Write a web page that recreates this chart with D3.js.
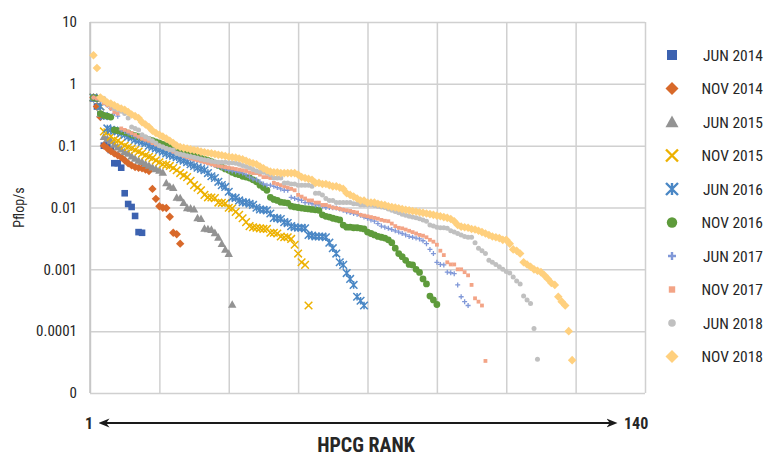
<!DOCTYPE html>
<html>
<head>
<meta charset="utf-8">
<script src="https://cdn.jsdelivr.net/npm/d3@7"></script>
<style>
  body { margin: 0; background: #fff; }
  svg text { font-family: "Roboto Condensed", "Liberation Sans Narrow", "DejaVu Sans Condensed", "Arial Narrow", sans-serif; font-stretch: condensed; fill: #262626; }
</style>
</head>
<body>
<svg id="chart" width="778" height="456"></svg>
<script>
// series labels, in legend order
const seriesNames = ["JUN 2014", "NOV 2014", "JUN 2015", "NOV 2015", "JUN 2016",
                     "NOV 2016", "JUN 2017", "NOV 2017", "JUN 2018", "NOV 2018"];

// HPCG performance in Pflop/s, index 0 = rank 1
const jun2014 = [0.58, 0.43, 0.32, 0.10, 0.10, 0.085, 0.052, 0.052, 0.044, 0.017, 0.0114, 0.0102, 0.0073, 0.0040, 0.0039];

const nov2014 = [0.6, 0.43, 0.29, 0.10, 0.09, 0.082, 0.075, 0.07, 0.065, 0.058, 0.052, 0.048, 0.045, 0.044, 0.043,
                 0.041, 0.039, 0.020, 0.0138, 0.0105, 0.0099, 0.0098, 0.0071, 0.0039, 0.0037, 0.0026];

const jun2015 = [0.6, 0.58, 0.33, 0.14, 0.13, 0.12, 0.105, 0.095, 0.088, 0.08,
                 0.075, 0.068, 0.062, 0.058, 0.055, 0.051, 0.048, 0.045, 0.042, 0.04,
                 0.037, 0.025, 0.022, 0.021, 0.0146, 0.0143, 0.012, 0.0099, 0.0097, 0.0094,
                 0.0068, 0.0066, 0.0046, 0.0045, 0.0044, 0.0039, 0.0033, 0.0026, 0.0021, 0.0018, 0.00027];

const nov2015 = [0.6, 0.58, 0.43, 0.17, 0.165, 0.14, 0.125, 0.12, 0.11, 0.1,
                 0.095, 0.09, 0.085, 0.08, 0.075, 0.07, 0.066, 0.063, 0.058, 0.054,
                 0.05, 0.049, 0.047, 0.0435, 0.04, 0.036, 0.033, 0.031, 0.027, 0.023,
                 0.021, 0.019, 0.016, 0.0146, 0.0145, 0.0142, 0.012, 0.0119, 0.0117, 0.0099,
                 0.0097, 0.0085, 0.0076, 0.0067, 0.0058, 0.005, 0.0048, 0.0047, 0.0046, 0.0045,
                 0.0045, 0.0039, 0.0039, 0.0038, 0.0034, 0.0033, 0.0033, 0.0031, 0.0025, 0.0018,
                 0.0013, 0.00118, 0.00026];

const jun2016 = [0.6, 0.58, 0.43, 0.3, 0.19, 0.18, 0.175, 0.17, 0.16, 0.15,
                 0.14, 0.135, 0.125, 0.12, 0.115, 0.11, 0.1, 0.095, 0.09, 0.085,
                 0.08, 0.075, 0.071, 0.068, 0.065, 0.06, 0.057, 0.054, 0.05, 0.047,
                 0.044, 0.042, 0.04, 0.036, 0.032, 0.03, 0.026, 0.023, 0.0215, 0.018,
                 0.0146, 0.0143, 0.013, 0.0122, 0.012, 0.0115, 0.011, 0.0099, 0.0093, 0.0092,
                 0.009, 0.008, 0.0068, 0.0067, 0.0065, 0.0058, 0.0056, 0.005, 0.0048, 0.0047,
                 0.0047, 0.0046, 0.0036, 0.0035, 0.0034, 0.0034, 0.0034, 0.0033, 0.0027, 0.0022,
                 0.0018, 0.0013, 0.00118, 0.00087, 0.0007, 0.00056, 0.00036, 0.00031, 0.00026];

const nov2016 = [0.6, 0.58, 0.33, 0.31, 0.3, 0.29, 0.18, 0.175, 0.17, 0.165,
                 0.16, 0.15, 0.145, 0.14, 0.135, 0.13, 0.125, 0.12, 0.115, 0.11,
                 0.105, 0.1, 0.095, 0.09, 0.087, 0.083, 0.079, 0.076, 0.072, 0.068,
                 0.065, 0.062, 0.06, 0.058, 0.055, 0.052, 0.048, 0.045, 0.042, 0.04,
                 0.037, 0.035, 0.034, 0.032, 0.031, 0.03, 0.028, 0.026, 0.023, 0.021,
                 0.019, 0.0146, 0.0135, 0.013, 0.0122, 0.012, 0.0118, 0.0105, 0.0102, 0.01,
                 0.0098, 0.0096, 0.0095, 0.0093, 0.0092, 0.009, 0.0076, 0.0072, 0.007, 0.0067,
                 0.0065, 0.0063, 0.0052, 0.0048, 0.0048, 0.0047, 0.0047, 0.0046, 0.0045, 0.004,
                 0.0038, 0.0036, 0.0034, 0.0033, 0.0032, 0.003, 0.0027, 0.0022, 0.0018, 0.0016,
                 0.0014, 0.0012, 0.00118, 0.001, 0.00089, 0.0007, 0.00058, 0.00037, 0.00032, 0.00027];

const jun2017 = [0.6, 0.58, 0.55, 0.49, 0.45, 0.4, 0.33, 0.3, 0.18, 0.17,
                 0.16, 0.15, 0.14, 0.135, 0.13, 0.12, 0.115, 0.11, 0.105, 0.1,
                 0.095, 0.09, 0.085, 0.08, 0.076, 0.072, 0.068, 0.065, 0.062, 0.06,
                 0.058, 0.056, 0.054, 0.052, 0.05, 0.048, 0.046, 0.044, 0.042, 0.04,
                 0.039, 0.038, 0.037, 0.036, 0.034, 0.031, 0.029, 0.028, 0.026, 0.024,
                 0.023, 0.023, 0.022, 0.021, 0.02, 0.019, 0.019, 0.0146, 0.014, 0.0135,
                 0.013, 0.012, 0.012, 0.0115, 0.011, 0.011, 0.0105, 0.01, 0.01, 0.0099,
                 0.0098, 0.0095, 0.009, 0.0085, 0.0083, 0.008, 0.0078, 0.0075, 0.007, 0.0067,
                 0.0063, 0.006, 0.0055, 0.005, 0.0048, 0.0046, 0.0044, 0.0042, 0.004, 0.0038,
                 0.0036, 0.0034, 0.0033, 0.0032, 0.0031, 0.0029, 0.0026, 0.0021, 0.0018, 0.0013,
                 0.0012, 0.00118, 0.0009, 0.00088, 0.00085, 0.00056, 0.00036, 0.0003, 0.00026];

const nov2017 = [0.6, 0.58, 0.55, 0.49, 0.45, 0.4, 0.35, 0.33, 0.19, 0.18,
                 0.17, 0.16, 0.15, 0.14, 0.13, 0.125, 0.12, 0.11, 0.105, 0.1,
                 0.095, 0.09, 0.085, 0.08, 0.076, 0.072, 0.068, 0.065, 0.062, 0.06,
                 0.058, 0.056, 0.054, 0.052, 0.05, 0.048, 0.047, 0.046, 0.045, 0.044,
                 0.043, 0.042, 0.041, 0.04, 0.039, 0.037, 0.036, 0.036, 0.034, 0.031,
                 0.031, 0.03, 0.025, 0.024, 0.023, 0.022, 0.021, 0.02, 0.019, 0.016,
                 0.015, 0.014, 0.013, 0.013, 0.012, 0.012, 0.011, 0.011, 0.0105, 0.01,
                 0.0098, 0.0095, 0.0092, 0.009, 0.0088, 0.0085, 0.0083, 0.0076, 0.0074, 0.0072,
                 0.007, 0.0068, 0.0066, 0.0063, 0.0061, 0.006, 0.0055, 0.005, 0.0047, 0.0046,
                 0.0044, 0.0042, 0.004, 0.0038, 0.0036, 0.0035, 0.0033, 0.003, 0.0028, 0.0025,
                 0.002, 0.0017, 0.0013, 0.0012, 0.0012, 0.001, 0.001, 0.0009, 0.0008, 0.00056,
                 0.00034, 0.0003, 0.00026, 0.000033];

const jun2018 = [2.9, 1.8, 0.6, 0.58, 0.5, 0.45, 0.4, 0.38, 0.36, 0.33,
                 0.28, 0.2, 0.19, 0.18, 0.15, 0.14, 0.13, 0.12, 0.11, 0.1,
                 0.095, 0.09, 0.087, 0.085, 0.075, 0.073, 0.071, 0.069, 0.067, 0.065,
                 0.063, 0.061, 0.059, 0.058, 0.056, 0.055, 0.054, 0.054, 0.054, 0.053,
                 0.053, 0.052, 0.05, 0.048, 0.046, 0.044, 0.041, 0.039, 0.038, 0.037,
                 0.036, 0.034, 0.03, 0.03, 0.03, 0.025, 0.025, 0.024, 0.024, 0.023,
                 0.023, 0.023, 0.023, 0.022, 0.017, 0.017, 0.016, 0.014, 0.013, 0.013,
                 0.012, 0.012, 0.012, 0.012, 0.012, 0.0115, 0.0115, 0.011, 0.011, 0.011,
                 0.011, 0.0108, 0.0105, 0.0102, 0.01, 0.0095, 0.009, 0.0086, 0.0082, 0.0078,
                 0.0075, 0.0072, 0.007, 0.0068, 0.0066, 0.0063, 0.006, 0.0052, 0.005, 0.0048,
                 0.0047, 0.0047, 0.0046, 0.0042, 0.004, 0.0038, 0.0036, 0.0034, 0.0033, 0.0033,
                 0.0027, 0.0022, 0.002, 0.0018, 0.0014, 0.0013, 0.0012, 0.0011, 0.001, 0.00092,
                 0.00087, 0.00075, 0.00065, 0.00058, 0.00037, 0.00032, 0.00028, 0.00011, 0.000035];

const nov2018 = [2.9, 1.8, 0.6, 0.55, 0.5, 0.48, 0.45, 0.42, 0.4, 0.38,
                 0.35, 0.32, 0.3, 0.28, 0.24, 0.22, 0.2, 0.175, 0.16, 0.15,
                 0.14, 0.13, 0.12, 0.11, 0.1, 0.095, 0.092, 0.09, 0.087, 0.085,
                 0.083, 0.08, 0.078, 0.076, 0.075, 0.073, 0.071, 0.07, 0.068, 0.066,
                 0.065, 0.064, 0.062, 0.06, 0.057, 0.054, 0.052, 0.05, 0.046, 0.043,
                 0.04, 0.038, 0.037, 0.037, 0.036, 0.036, 0.036, 0.036, 0.036, 0.034,
                 0.031, 0.03, 0.029, 0.028, 0.025, 0.025, 0.024, 0.024, 0.023, 0.022,
                 0.022, 0.021, 0.02, 0.017, 0.016, 0.015, 0.014, 0.013, 0.013, 0.012,
                 0.012, 0.012, 0.0115, 0.0112, 0.011, 0.0105, 0.0102, 0.01, 0.0097, 0.0094,
                 0.0092, 0.009, 0.0088, 0.0086, 0.0084, 0.0082, 0.008, 0.0078, 0.0076, 0.0074,
                 0.0072, 0.007, 0.0068, 0.0065, 0.006, 0.0052, 0.0049, 0.0048, 0.0047, 0.0045,
                 0.0044, 0.0042, 0.004, 0.0038, 0.0036, 0.0034, 0.0033, 0.0032, 0.003, 0.003,
                 0.0026, 0.0021, 0.002, 0.0018, 0.0013, 0.0012, 0.0011, 0.001, 0.00095, 0.0009,
                 0.0008, 0.0007, 0.0006, 0.00056, 0.00036, 0.0003, 0.00026, 0.0001, 0.000034];

const yTickValues = [10, 1, 0.1, 0.01, 0.001, 0.0001, 0.00001];
const yTickLabels = ["10", "1", "0.1", "0.01", "0.001", "0.0001", "0"];
const xGridValues = [0, 20, 40, 60, 80, 100, 120, 140, 160];
const rankEnds = ["1", "140"];

const allSeries = [jun2014, nov2014, jun2015, nov2015, jun2016, nov2016, jun2017, nov2017, jun2018, nov2018];

// marker look per series: shape, fill/stroke colour, plot size, legend size
const markerStyle = [
  { shape: "square",   color: "#3C62B0", size: 3.3, legend: 5 },
  { shape: "diamond",  color: "#D8692A", size: 4.2, legend: 6.5 },
  { shape: "triangle", color: "#939393", size: 4.2, legend: 6.5 },
  { shape: "x",        color: "#EDB100", size: 3.8, legend: 6 },
  { shape: "star",     color: "#4A87C5", size: 3.8, legend: 6 },
  { shape: "circle",   color: "#5E9B3B", size: 3.4, legend: 5.2 },
  { shape: "plus",     color: "#8098D8", size: 2.5, legend: 4 },
  { shape: "square",   color: "#F3A486", size: 1.9, legend: 3.2 },
  { shape: "circle",   color: "#C0C0C0", size: 2.5, legend: 3.8 },
  { shape: "diamond",  color: "#FFD07E", size: 4.3, legend: 6.5 }
];

const margin = { top: 22, right: 133, bottom: 63, left: 90 };
const width = 778, height = 456;

const svg = d3.select("#chart");

const x = d3.scaleLinear().domain([0, 160]).range([margin.left, width - margin.right]);
const y = d3.scaleLog().domain([0.00001, 10]).range([height - margin.bottom, margin.top]);

function markerPath(shape, s) {
  switch (shape) {
    case "square":   return `M${-s},${-s}h${2 * s}v${2 * s}h${-2 * s}Z`;
    case "diamond":  return `M0,${-s}L${s},0L0,${s}L${-s},0Z`;
    case "triangle": return `M0,${-s}L${s},${s * 0.8}L${-s},${s * 0.8}Z`;
    case "circle":   return d3.symbol(d3.symbolCircle, Math.PI * s * s)();
    case "x":        return `M${-s},${-s}L${s},${s}M${-s},${s}L${s},${-s}`;
    case "star":     return `M${-s},${-s}L${s},${s}M${-s},${s}L${s},${-s}M0,${-s}L0,${s}`;
    case "plus":     return `M${-s},0L${s},0M0,${-s}L0,${s}`;
  }
}
const isStroked = shape => shape === "x" || shape === "star" || shape === "plus";

// grid
svg.append("g")
  .attr("transform", `translate(0,${height - margin.bottom})`)
  .call(d3.axisBottom(x).tickValues(xGridValues).tickSize(-(height - margin.top - margin.bottom)).tickFormat(""))
  .call(g => g.select(".domain").remove())
  .call(g => g.selectAll("line").attr("stroke", "#D0D0D0").attr("stroke-width", 1.5));

svg.append("g")
  .attr("transform", `translate(${margin.left},0)`)
  .call(d3.axisLeft(y).tickValues(yTickValues).tickSize(-(width - margin.left - margin.right)).tickPadding(13)
    .tickFormat((d, i) => yTickLabels[i]))
  .call(g => g.select(".domain").remove())
  .call(g => g.selectAll("line").attr("stroke", "#D0D0D0").attr("stroke-width", 1.5))
  .call(g => g.selectAll("text").attr("font-size", 15).style("fill", "#262626"));

// left axis line
svg.append("line")
  .attr("x1", margin.left).attr("x2", margin.left)
  .attr("y1", margin.top).attr("y2", height - margin.bottom)
  .attr("stroke", "#C4C4C4").attr("stroke-width", 1.5);

// points
allSeries.forEach((values, si) => {
  const st = markerStyle[si];
  const stroked = isStroked(st.shape);
  svg.append("g")
    .attr("class", "series")
    .selectAll("path")
    .data(values)
    .join("path")
    .attr("transform", (d, i) => `translate(${x(i + 1)},${y(d)})`)
    .attr("d", markerPath(st.shape, st.size))
    .attr("fill", stroked ? "none" : st.color)
    .attr("stroke", stroked ? st.color : "none")
    .attr("stroke-width", stroked ? (st.shape === "plus" ? 1.3 : 1.5) : 0);
});

// y title
svg.append("text")
  .attr("transform", `translate(24,${(margin.top + height - margin.bottom) / 2}) rotate(-90)`)
  .attr("text-anchor", "middle")
  .attr("font-size", 14)
  .text("Pflop/s");

// legend
const legend = svg.append("g").selectAll("g")
  .data(seriesNames)
  .join("g")
  .attr("transform", (d, i) => `translate(0,${55 + i * 33.5})`);

legend.append("path")
  .attr("transform", "translate(672,0)")
  .attr("d", (d, i) => markerPath(markerStyle[i].shape, markerStyle[i].legend))
  .attr("fill", (d, i) => isStroked(markerStyle[i].shape) ? "none" : markerStyle[i].color)
  .attr("stroke", (d, i) => isStroked(markerStyle[i].shape) ? markerStyle[i].color : "none")
  .attr("stroke-width", 2.4);

legend.append("text")
  .attr("x", 763)
  .attr("dy", "0.36em")
  .attr("text-anchor", "end")
  .attr("font-size", 15.5)
  .text(d => d);

// rank arrow under the plot
const arrowY = 423;
const defs = svg.append("defs");
["start", "end"].forEach(k => {
  defs.append("marker")
    .attr("id", "arrow-" + k)
    .attr("viewBox", "0 0 10 10")
    .attr("refX", 5).attr("refY", 5)
    .attr("markerWidth", 5).attr("markerHeight", 5)
    .attr("orient", "auto-start-reverse")
    .append("path")
    .attr("d", "M0,1L10,5L0,9L3,5Z")
    .attr("fill", "#1a1a1a");
});

svg.append("text")
  .attr("x", 89).attr("y", arrowY).attr("dy", "0.36em")
  .attr("text-anchor", "middle")
  .attr("font-size", 16).attr("font-weight", "bold")
  .text(rankEnds[0]);

svg.append("text")
  .attr("x", 624).attr("y", arrowY).attr("dy", "0.36em")
  .attr("text-anchor", "start")
  .attr("font-size", 16).attr("font-weight", "bold")
  .text(rankEnds[1]);

svg.append("line")
  .attr("x1", 104).attr("x2", 612)
  .attr("y1", arrowY).attr("y2", arrowY)
  .attr("stroke", "#1a1a1a").attr("stroke-width", 2.2)
  .attr("marker-start", "url(#arrow-start)")
  .attr("marker-end", "url(#arrow-end)");

svg.append("text")
  .attr("x", 366).attr("y", 445).attr("dy", "0.36em")
  .attr("text-anchor", "middle")
  .attr("font-size", 20).attr("font-weight", "bold")
  .text("HPCG RANK");
</script>
</body>
</html>
